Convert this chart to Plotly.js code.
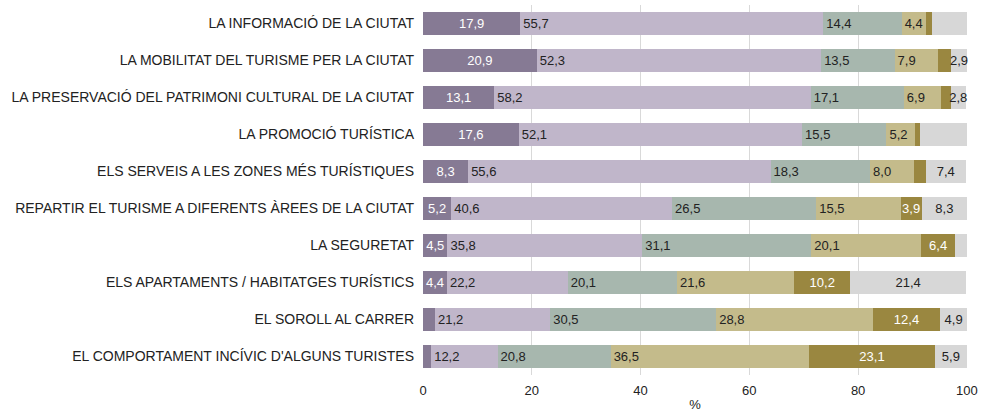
<!DOCTYPE html>
<html>
<head>
<meta charset="utf-8">
<script src="https://cdn.plot.ly/plotly-3.0.1.min.js"></script>
<style>html,body{margin:0;padding:0;background:#fff;}#chart{width:985px;height:412px;}</style>
</head>
<body>
<div id="chart"></div>
<script>
var categories = [
  "LA INFORMACIÓ DE LA CIUTAT",
  "LA MOBILITAT DEL TURISME PER LA CIUTAT",
  "LA PRESERVACIÓ DEL PATRIMONI CULTURAL DE LA CIUTAT",
  "LA PROMOCIÓ TURÍSTICA",
  "ELS SERVEIS A LES ZONES MÉS TURÍSTIQUES",
  "REPARTIR EL TURISME A DIFERENTS ÀREES DE LA CIUTAT",
  "LA SEGURETAT",
  "ELS APARTAMENTS / HABITATGES TURÍSTICS",
  "EL SOROLL AL CARRER",
  "EL COMPORTAMENT INCÍVIC D'ALGUNS TURISTES"
];
// six answer groups, values in % (estimated where unlabeled)
var s1 = [17.9, 20.9, 13.1, 17.6, 8.3, 5.2, 4.5, 4.4, 2.2, 1.5];
var s2 = [55.7, 52.3, 58.2, 52.1, 55.6, 40.6, 35.8, 22.2, 21.2, 12.2];
var s3 = [14.4, 13.5, 17.1, 15.5, 18.3, 26.5, 31.1, 20.1, 30.5, 20.8];
var s4 = [4.4, 7.9, 6.9, 5.2, 8.0, 15.5, 20.1, 21.6, 28.8, 36.5];
var s5 = [1.2, 2.5, 1.7, 1.0, 2.2, 3.9, 6.4, 10.2, 12.4, 23.1];
var s6 = [6.4, 2.9, 2.8, 8.6, 7.4, 8.3, 2.1, 21.4, 4.9, 5.9];
// which values carry a visible label (1 = shown)
var show1 = [1,1,1,1,1,1,1,1,0,0];
var show2 = [1,1,1,1,1,1,1,1,1,1];
var show3 = [1,1,1,1,1,1,1,1,1,1];
var show4 = [1,1,1,1,1,1,1,1,1,1];
var show5 = [0,0,0,0,0,1,1,1,1,1];
var show6 = [0,1,1,0,1,1,0,1,1,1];

var colors = ["#867A94", "#C0B6CA", "#A7B7AE", "#C4BB8B", "#9A8740", "#D7D7D7"];
var textColors = ["#ffffff", "#222222", "#222222", "#222222", "#ffffff", "#222222"];
var anchors = ["middle", "start", "start", "start", "middle", "middle"];

function fmt(v) { return v.toFixed(1).replace('.', ','); }

var series = [s1, s2, s3, s4, s5, s6];
var shows = [show1, show2, show3, show4, show5, show6];

var traces = series.map(function (vals, i) {
  return {
    type: 'bar',
    orientation: 'h',
    y: categories,
    x: vals,
    marker: { color: colors[i], line: { width: 0 } },
    text: vals.map(function (v, j) { return shows[i][j] ? fmt(v) : ''; }),
    textposition: 'inside',
    insidetextanchor: anchors[i],
    textangle: 0,
    constraintext: 'none',
    textfont: { family: 'Liberation Sans, Arial, sans-serif', size: 13, color: textColors[i] },
    hoverinfo: 'none',
    showlegend: false,
    cliponaxis: false
  };
});

var layout = {
  width: 985,
  height: 412,
  barmode: 'stack',
  bargap: 0.38,
  margin: { l: 423, r: 18, t: 5, b: 37 },
  paper_bgcolor: '#ffffff',
  plot_bgcolor: '#ffffff',
  font: { family: 'Liberation Sans, Arial, sans-serif', size: 13, color: '#222222' },
  xaxis: {
    range: [0, 100.02],
    tickvals: [0, 20, 40, 60, 80, 100],
    ticktext: ['0', '20', '40', '60', '80', '100'],
    showgrid: true,
    gridcolor: '#D9D9D9',
    gridwidth: 1,
    zeroline: false,
    showline: false,
    ticks: '',
    ticklabelstandoff: 6,
    tickfont: { size: 13, color: '#222222' },
    title: { text: '%', font: { size: 13, color: '#222222' }, standoff: 4 }
  },
  yaxis: {
    autorange: 'reversed',
    type: 'category',
    showgrid: false,
    zeroline: false,
    showline: false,
    ticks: '',
    ticklabelstandoff: 8,
    tickfont: { size: 14, color: '#222222' }
  }
};

Plotly.newPlot('chart', traces, layout, { displayModeBar: false, staticPlot: true });
</script>
</body>
</html>
